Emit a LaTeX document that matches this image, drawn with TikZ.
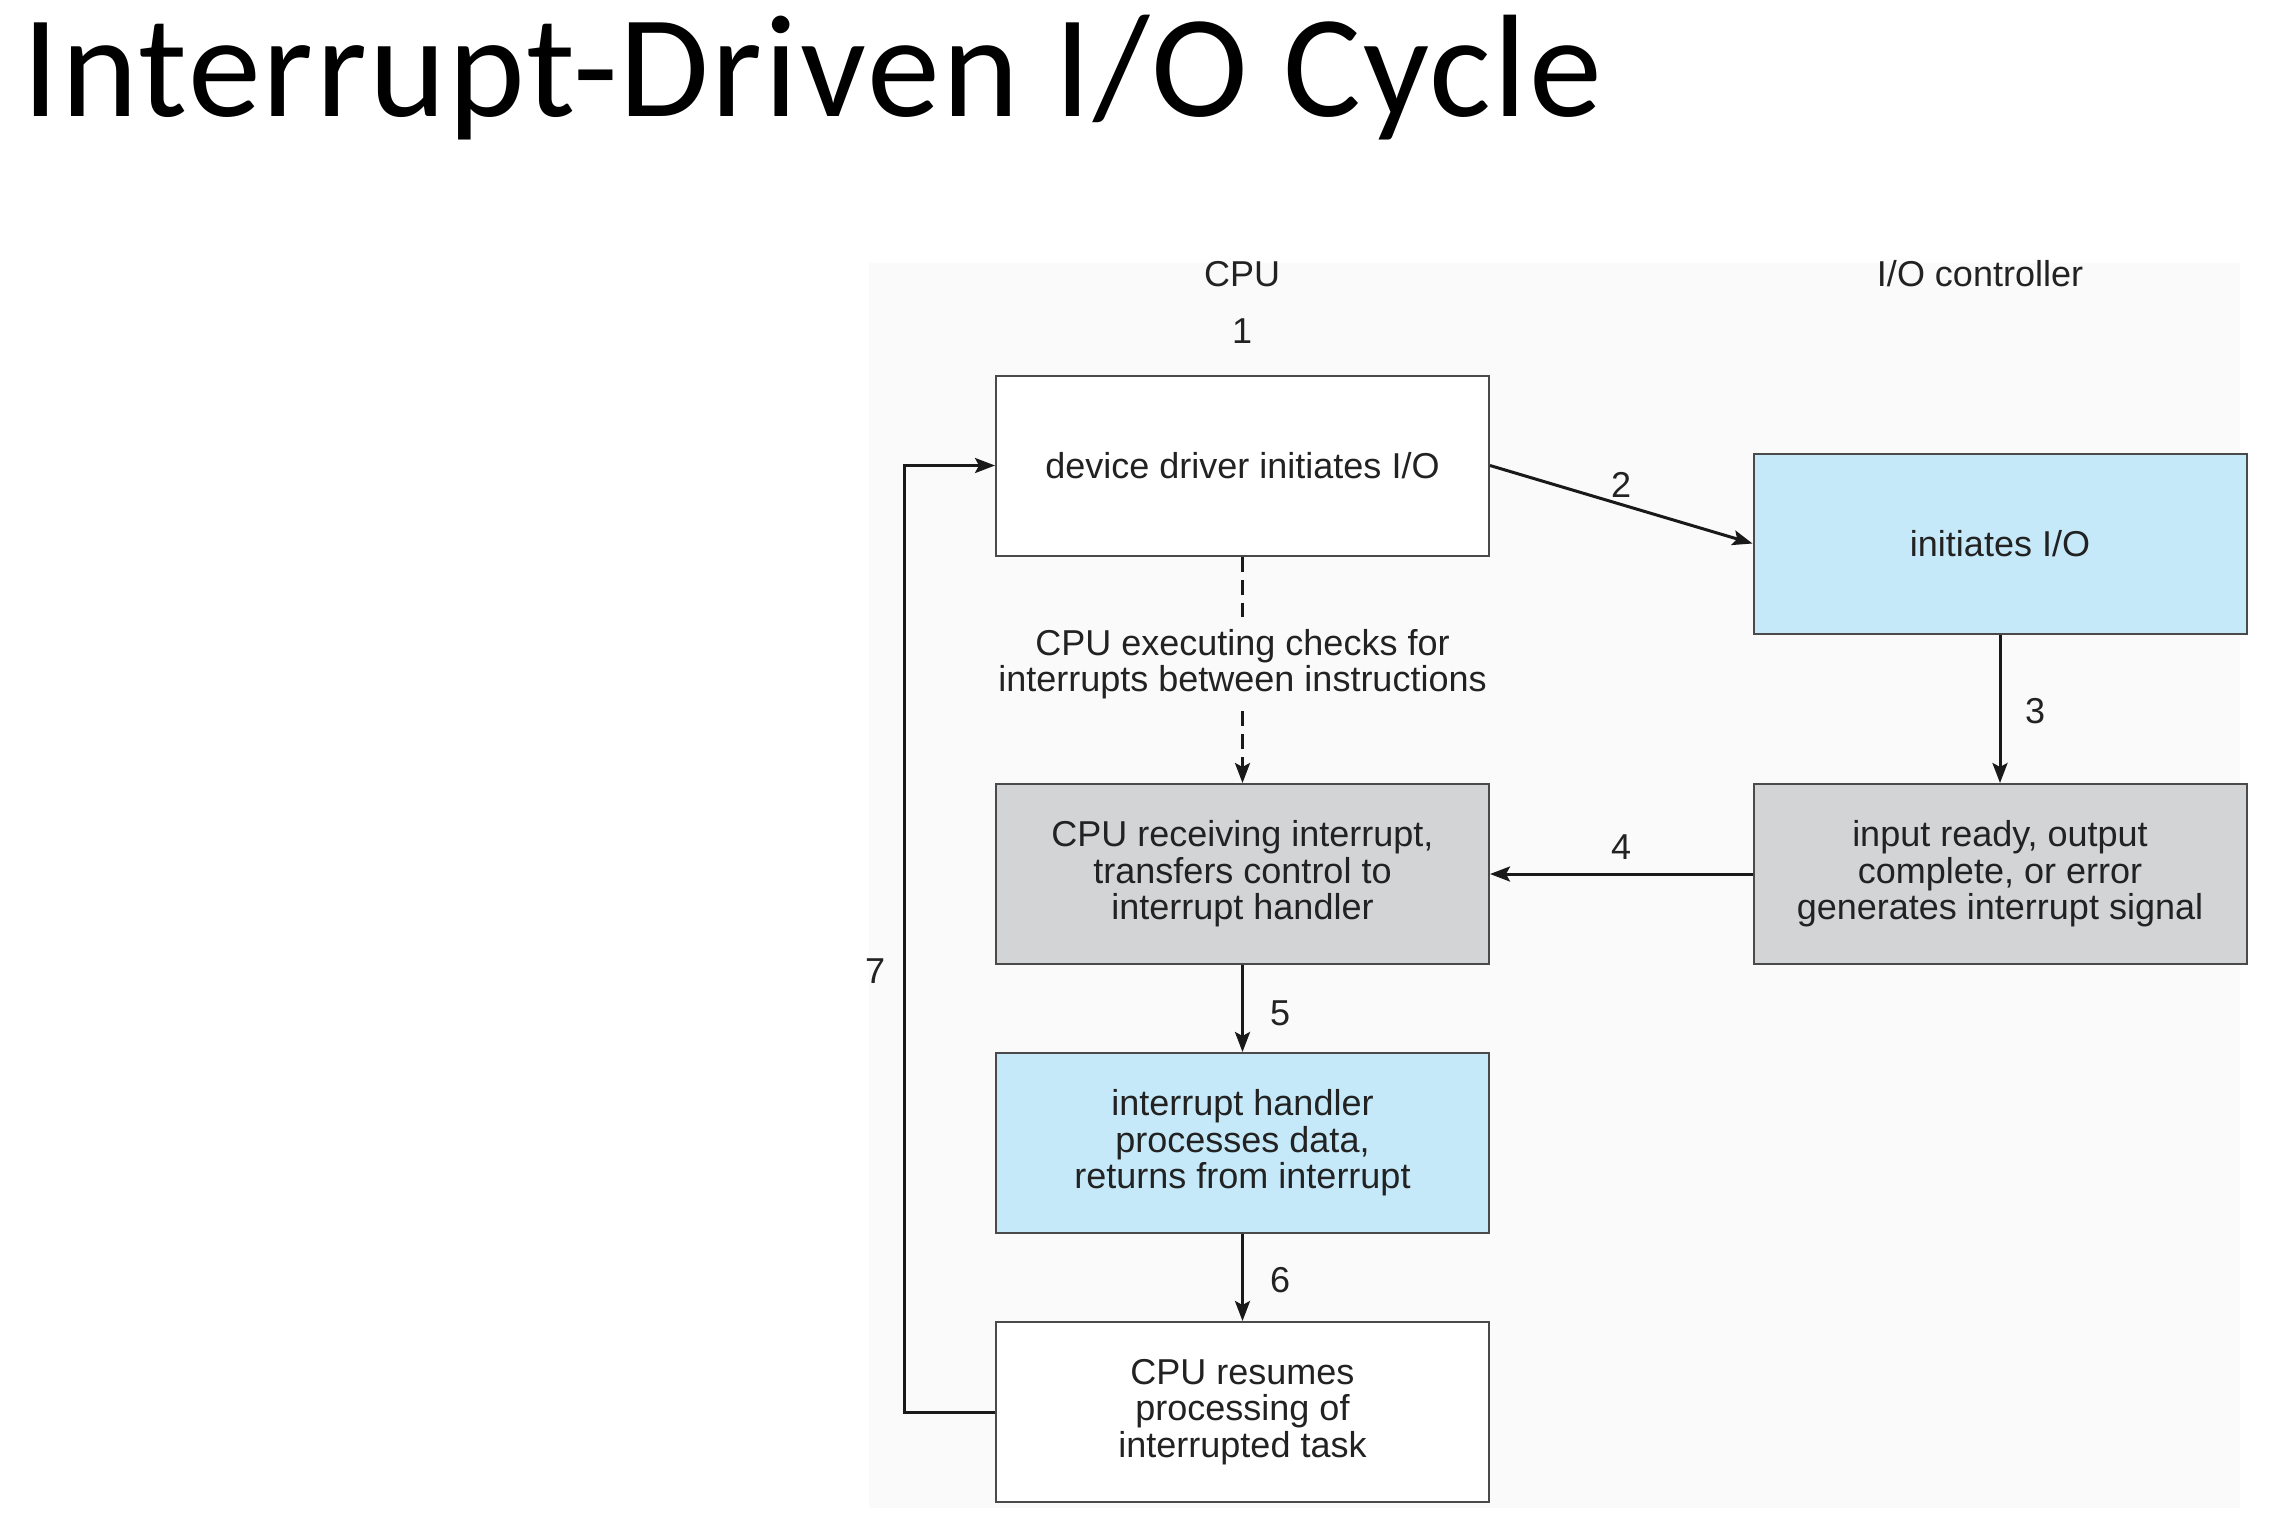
\documentclass[tikz,border=0pt]{standalone}
\usepackage{fontspec}
\setmainfont{Liberation Sans}
\newfontfamily\titlefont[LetterSpace=1.5]{Carlito}
\usetikzlibrary{arrows.meta}
\definecolor{boxblue}{HTML}{C6E9F9}
\definecolor{boxgray}{HTML}{D3D4D6}
\definecolor{edgec}{HTML}{4A4A4A}
\definecolor{ink}{HTML}{222222}
\definecolor{panel}{HTML}{FAFAFA}
\begin{document}
\begin{tikzpicture}[x=1pt,y=-1pt,
  stepbox/.style={draw=edgec, line width=2pt, minimum width=493pt, minimum height=180pt,
    align=center, inner sep=0pt, text=ink, font=\fontsize{36}{36.5}\selectfont},
  lbl/.style={text=ink, font=\fontsize{36}{36.5}\selectfont, inner sep=0pt},
  tip/.style={-{Stealth[length=20pt,width=15pt,inset=4pt]}},
  arr/.style={draw=black!90, line width=3pt, tip},
  dsh/.style={draw=black!90, line width=3pt, dash pattern=on 15pt off 8pt},
]
\useasboundingbox (0,0) rectangle (2286,1535);
\fill[white] (0,0) rectangle (2286,1535);
\fill[panel] (869,263) rectangle (2240,1508);

\node[anchor=base west, inner sep=0pt, font=\titlefont\fontsize{146}{146}\selectfont, text=black] (title) at (22,116) {Interrupt-Driven I/O Cycle};

\node[lbl] (cpu) at (1242,274) {CPU};
\node[lbl] (ioc) at (1980,274) {I/O controller};
\node[lbl] (n1) at (1242,331) {1};

\node[stepbox, fill=white] (b1) at (1242.5,465.5) {device driver initiates I/O};
\node[stepbox, fill=boxblue] (c1) at (2000,543.5) {initiates I/O};
\node[stepbox, fill=boxgray] (b2) at (1242.5,874) {CPU receiving interrupt,\\transfers control to\\interrupt handler};
\node[stepbox, fill=boxgray] (c2) at (2000,874) {input ready, output\\complete, or error\\generates interrupt signal};
\node[stepbox, fill=boxblue] (b3) at (1242.5,1143) {interrupt handler\\processes data,\\returns from interrupt};
\node[stepbox, fill=white] (b4) at (1242.5,1412) {CPU resumes\\processing of\\interrupted task};

\node[lbl, align=center, outer ysep=12pt] (chk) at (1242.5,664) {CPU executing checks for\\interrupts between instructions};

\draw[dsh] (b1.south) -- (chk.north);
\draw[dsh, tip] (chk.south) -- (b2.north);

\draw[arr] (b1.east) -- (c1.west);
\draw[arr] (c1.south) -- (c2.north);
\draw[arr] (c2.west) -- (b2.east);
\draw[arr] (b2.south) -- (b3.north);
\draw[arr] (b3.south) -- (b4.north);
\draw[arr] (b4.west) -- ++(-91,0) |- (b1.west);

\node[lbl] (n2) at (1621,485) {2};
\node[lbl] (n3) at (2035,711) {3};
\node[lbl] (n4) at (1621,847) {4};
\node[lbl] (n5) at (1280,1013) {5};
\node[lbl] (n6) at (1280,1280) {6};
\node[lbl] (n7) at (875,971) {7};
\end{tikzpicture}
\end{document}
